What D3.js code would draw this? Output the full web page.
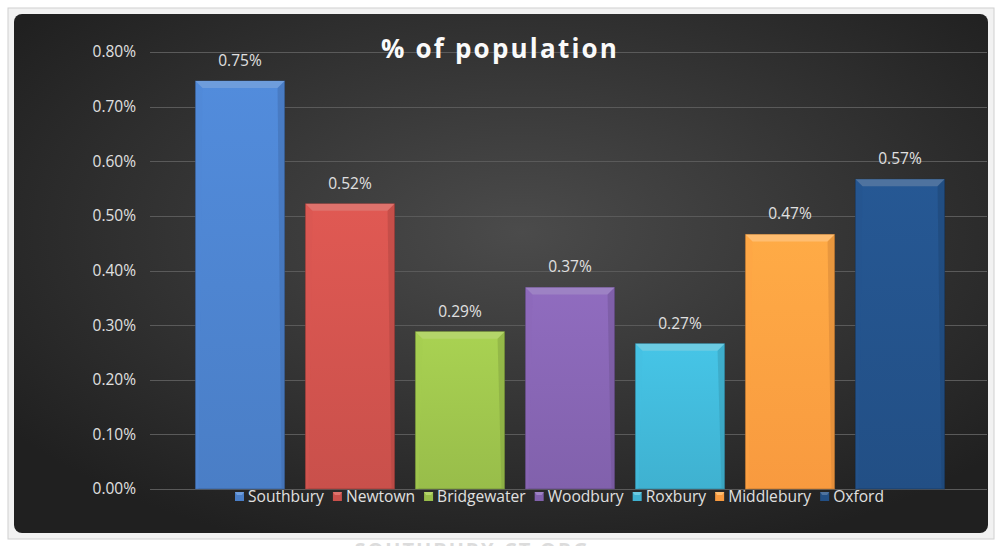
<!DOCTYPE html>
<html><head><meta charset="utf-8">
<script src="https://cdn.jsdelivr.net/npm/d3@7"></script>
<style>html,body{margin:0;padding:0;background:#fff;}svg{display:block;}</style>
</head><body>
<svg id="chart" width="1000" height="546"></svg>
<script>
const categories = ["Southbury","Newtown","Bridgewater","Woodbury","Roxbury","Middlebury","Oxford"];
const values = [0.00747, 0.00522, 0.00288, 0.00369, 0.00266, 0.00466, 0.00567];
const colors = ["#4a7ec6","#c9504b","#98bd4a","#8161ac","#3fb1d0","#f89a3f","#224f85"];
const tops = ["#6e9ddc","#de726c","#b4d56a","#9d82c4","#6ccbe2","#ffbd70","#4f739f"];
const yTicks = [0,0.001,0.002,0.003,0.004,0.005,0.006,0.007,0.008];
const title = "% of population";
const footer = "SOUTHBURY-CT.ORG";

const svg = d3.select("#chart");
const defs = svg.append("defs");
const bg = defs.append("radialGradient").attr("id","bg").attr("cx","52%").attr("cy","42%").attr("r","65%");
bg.append("stop").attr("offset","0%").attr("stop-color","#4b4b4b");
bg.append("stop").attr("offset","100%").attr("stop-color","#202020");

// frame
svg.append("rect").attr("x",8).attr("y",8).attr("width",986).attr("height",531).attr("fill","#f2f2f2").attr("stroke","#d0d0d0");
svg.append("rect").attr("x",14).attr("y",14).attr("width",974).attr("height",519).attr("rx",8).attr("fill","url(#bg)");
svg.append("text").attr("x",472).attr("y",557).attr("text-anchor","middle").attr("font-family","Open Sans").attr("font-size",20).attr("font-weight","bold").attr("letter-spacing",2).attr("fill","#dcdcdc").text(footer);

const y = d3.scaleLinear().domain([0,0.008]).range([489,52]);
const x = d3.scaleBand().domain(categories).range([185,955]).paddingInner(0.19).paddingOuter(0.095);

// grid
svg.append("g").selectAll("line").data(yTicks).join("line")
  .attr("x1",150).attr("x2",987).attr("y1",d=>Math.round(y(d))+0.5).attr("y2",d=>Math.round(y(d))+0.5)
  .attr("stroke","#5a5a5a").attr("stroke-width",1);

// y axis
const yAxis = d3.axisLeft(y).tickValues(yTicks).tickFormat(d3.format(".2%")).tickSize(0).tickPadding(0);
const ga = svg.append("g").attr("transform","translate(136,0)").call(yAxis);
ga.select(".domain").remove();
ga.selectAll("text").attr("font-family","Open Sans").attr("font-size",15.5).attr("fill","#e0e0e0");

// gradients per bar
categories.forEach((c,i)=>{
  const g = defs.append("linearGradient").attr("id","g"+i).attr("x1",0).attr("y1",0).attr("x2",0).attr("y2",1);
  g.append("stop").attr("offset","0%").attr("stop-color",d3.color(colors[i]).brighter(0.3));
  g.append("stop").attr("offset","100%").attr("stop-color",colors[i]);
});

const bars = svg.append("g").selectAll("g").data(categories).join("g");
bars.append("rect").attr("x",d=>x(d)).attr("y",(d,i)=>y(values[i])).attr("width",x.bandwidth())
  .attr("height",(d,i)=>y(0)-y(values[i])).attr("fill",(d,i)=>"url(#g"+i+")")
  .attr("stroke",(d,i)=>d3.color(colors[i]).darker(1.2)).attr("stroke-opacity",0.6);
// top bevel
const bv = 7;
bars.append("path").attr("d",(d,i)=>{
  const x0=x(d), x1=x(d)+x.bandwidth(), t=y(values[i]);
  return `M${x0},${t}L${x1},${t}L${x1-bv},${t+bv}L${x0+bv},${t+bv}Z`;
}).attr("fill",(d,i)=>tops[i]);
// side bevels
bars.append("path").attr("d",(d,i)=>{
  const x0=x(d), t=y(values[i]);
  return `M${x0},${t}L${x0+bv},${t+bv}L${x0+3},${y(0)}L${x0},${y(0)}Z`;
}).attr("fill",(d,i)=>d3.color(colors[i]).brighter(0.2)).attr("opacity",0.45);
bars.append("path").attr("d",(d,i)=>{
  const x1=x(d)+x.bandwidth(), t=y(values[i]);
  return `M${x1},${t}L${x1-bv},${t+bv}L${x1-3},${y(0)}L${x1},${y(0)}Z`;
}).attr("fill",(d,i)=>d3.color(colors[i]).darker(0.5)).attr("opacity",0.45);

// value labels
bars.append("text").attr("x",d=>x(d)+x.bandwidth()/2).attr("y",(d,i)=>y(values[i])-15)
  .attr("text-anchor","middle").attr("font-family","Open Sans").attr("font-size",15.5).attr("fill","#e0e0e0")
  .text((d,i)=>d3.format(".2%")(values[i]));

// title
svg.append("text").attr("x",500).attr("y",58).attr("text-anchor","middle").attr("font-family","Open Sans")
  .attr("font-weight","bold").attr("font-size",26).attr("letter-spacing",2.2).attr("fill","#fafafa").text(title);

// legend
const leg = svg.append("g").attr("transform","translate(235,496)");
let lx = 0;
categories.forEach((c,i)=>{
  const gi = leg.append("g").attr("transform",`translate(${lx},0)`);
  gi.append("rect").attr("x",0).attr("y",-4).attr("width",9).attr("height",9).attr("fill",colors[i]);
  gi.append("path").attr("d","M0,-4L9,-4L7,-1L2,-1Z").attr("fill",tops[i]);
  const t = gi.append("text").attr("x",13).attr("y",6).attr("font-family","Open Sans").attr("font-size",15.6).attr("fill","#e0e0e0").text(c);
  lx += 13 + t.node().getComputedTextLength() + 9;
});
</script>
</body></html>
